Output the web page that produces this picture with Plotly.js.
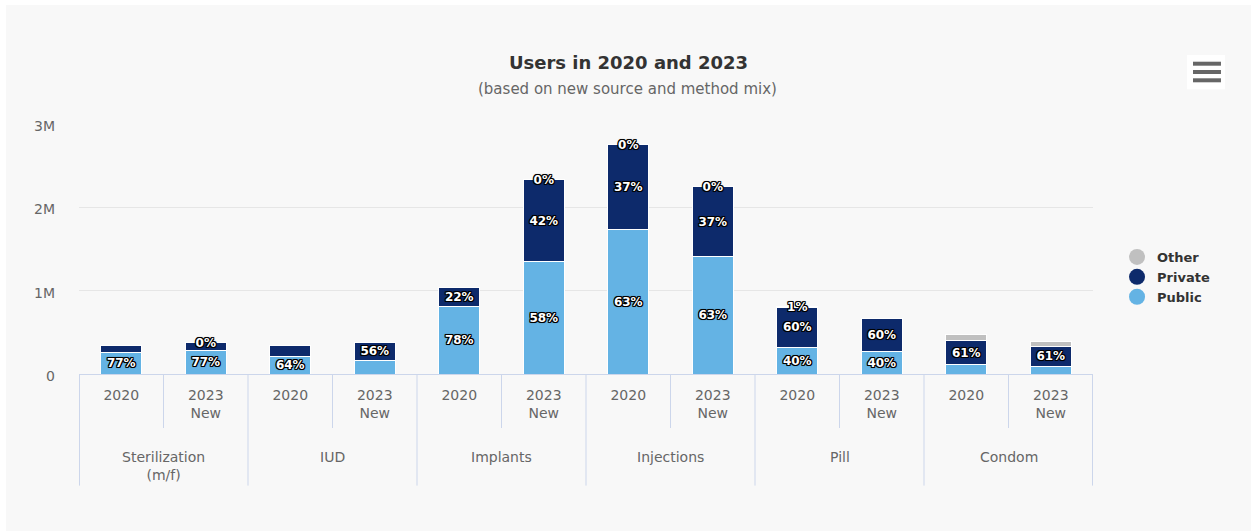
<!DOCTYPE html>
<html><head><meta charset="utf-8">
<script src="https://cdn.plot.ly/plotly-3.0.1.min.js"></script>
<style>
html,body{margin:0;padding:0;background:#fff;}
#chart{position:absolute;left:6px;top:5px;width:1245px;height:526px;}
</style></head><body><div id="chart"></div>
<script>
// ---- data ----
const methods = ['Sterilization<br>(m/f)', 'IUD', 'Implants', 'Injections', 'Pill', 'Condom'];
const periods = ['2020', '2023<br>New'];
const publicUsers  = [259000, 287000, 216000, 166000, 811000, 1352000, 1732000, 1414000, 320000, 267000, 112000, 94000];
const privateUsers = [78000, 88000, 121000, 211000, 229000, 978000, 1018000, 831000, 480000, 400000, 285000, 238000];
const otherUsers   = [0, 2000, 0, 0, 0, 4000, 5000, 4000, 8000, 0, 73000, 58000];
const publicLabels  = ['77%', '77%', '64%', '', '78%', '58%', '63%', '63%', '40%', '40%', '', ''];
const privateLabels = ['', '', '', '56%', '22%', '42%', '37%', '37%', '60%', '60%', '61%', '61%'];
const otherLabels   = ['', '0%', '', '', '', '0%', '0%', '0%', '1%', '', '', ''];
const yTickVals = [0, 1000000, 2000000, 3000000];
const yTickText = ['0', '1M', '2M', '3M'];
const seriesNames = ['Public', 'Private', 'Other'];
const seriesColors = ['#64b3e4', '#0d2a6b', '#c0c0c0'];

// ---- build ----
const FONT = 'DejaVu Sans, sans-serif';
const xIdx = publicUsers.map((_, i) => i);
const xTickText = methods.flatMap(() => periods);
const outline = '1px 1px 0 #000, -1px -1px 0 #000, 1px -1px 0 #000, -1px 1px 0 #000, 0 1px 0 #000, 0 -1px 0 #000, 1px 0 0 #000, -1px 0 0 #000, 0 0 2px #000';

const values = [publicUsers, privateUsers, otherUsers];
const labels = [publicLabels, privateLabels, otherLabels];

const traces = values.map((v, k) => ({
  type: 'bar', x: xIdx, y: v, name: seriesNames[k], showlegend: false,
  marker: {color: seriesColors[k], line: {color: '#ffffff', width: 1}},
  text: labels[k], textposition: 'inside', insidetextanchor: 'middle', textangle: 0,
  constraintext: 'none', cliponaxis: false,
  textfont: {family: FONT, size: 12, color: '#ffffff', weight: 'bold', shadow: outline},
  hoverinfo: 'none'
}));
// legend entries with circle symbols (Other, Private, Public)
[2, 1, 0].forEach(k => traces.push({
  type: 'scatter', mode: 'markers', x: [null], y: [null], name: seriesNames[k],
  marker: {color: seriesColors[k], size: 16, symbol: 'circle'}, showlegend: true, hoverinfo: 'none'
}));

const shapes = [];
const annotations = [];
methods.forEach((m, g) => {
  // inner divider between the two periods
  shapes.push({type: 'line', xref: 'x', yref: 'paper', x0: 2 * g + 0.5, x1: 2 * g + 0.5, y0: 0, y1: -0.216,
    line: {color: '#ccd6eb', width: 1}});
  // group divider at the left of each group
  const xl = g === 0 ? 2 * g - 0.5 + 0.006 : 2 * g - 0.5;
  shapes.push({type: 'line', xref: 'x', yref: 'paper', x0: xl, x1: xl, y0: 0, y1: -0.4464,
    line: {color: '#ccd6eb', width: 1}});
  annotations.push({xref: 'x', yref: 'paper', x: 2 * g + 0.5, y: -0.292, yanchor: 'top', xanchor: 'center',
    text: m, showarrow: false, font: {family: FONT, size: 14, color: '#666666'}});
});
const xr = 2 * methods.length - 0.5 - 0.006;
shapes.push({type: 'line', xref: 'x', yref: 'paper', x0: xr, x1: xr, y0: 0, y1: -0.4464,
  line: {color: '#ccd6eb', width: 1}});

// export menu icon
shapes.push({type: 'rect', xref: 'paper', yref: 'paper', x0: 1.0927, x1: 1.1302, y0: 1.1388, y1: 1.276,
  fillcolor: '#ffffff', line: {width: 0}});
[1.2412, 1.208, 1.1748].forEach(yy => shapes.push({type: 'line', xref: 'paper', yref: 'paper',
  x0: 1.0986, x1: 1.1262, y0: yy, y1: yy, line: {color: '#666666', width: 4}}));

annotations.push({xref: 'paper', yref: 'paper', x: 0.5408, y: 1.14, xanchor: 'center', yanchor: 'middle',
  text: '(based on new source and method mix)', showarrow: false,
  font: {family: FONT, size: 15, color: '#666666'}});

const layout = {
  width: 1245, height: 526,
  margin: {l: 73, r: 158, t: 119, b: 157},
  paper_bgcolor: '#f8f8f8', plot_bgcolor: '#f8f8f8',
  barmode: 'stack', bargap: 0.51,
  font: {family: FONT, color: '#333333'},
  title: {text: 'Users in 2020 and 2023', xref: 'container', x: 0.5, xanchor: 'center',
    yref: 'container', y: 0.8897, yanchor: 'middle',
    font: {family: FONT, size: 18, color: '#333333', weight: 'bold'}},
  xaxis: {type: 'linear', range: [-0.5, 2 * methods.length - 0.5], tickvals: xIdx, ticktext: xTickText,
    showgrid: false, zeroline: false, showline: true, linecolor: '#ccd6eb', linewidth: 1,
    ticks: '', ticklabelstandoff: 8, tickfont: {family: FONT, size: 14, color: '#666666'}, fixedrange: true},
  yaxis: {range: [0, 3000000], tickvals: yTickVals, ticktext: yTickText, showgrid: true,
    gridcolor: '#e6e6e6', gridwidth: 1, zeroline: false, showline: false, ticks: '',
    ticklabelstandoff: 23, ticklabelshift: 2,
    tickfont: {family: FONT, size: 14, color: '#666666'}, fixedrange: true},
  legend: {x: 1.0237, xanchor: 'left', y: 0.388, yanchor: 'middle', traceorder: 'normal',
    bgcolor: 'rgba(0,0,0,0)', font: {family: FONT, size: 13, color: '#333333', weight: 'bold'},
    itemclick: false, itemdoubleclick: false},
  uniformtext: {mode: 'show', minsize: 12},
  hovermode: false,
  shapes: shapes, annotations: annotations
};

Plotly.newPlot('chart', traces, layout, {displayModeBar: false, staticPlot: false});
</script></body></html>
